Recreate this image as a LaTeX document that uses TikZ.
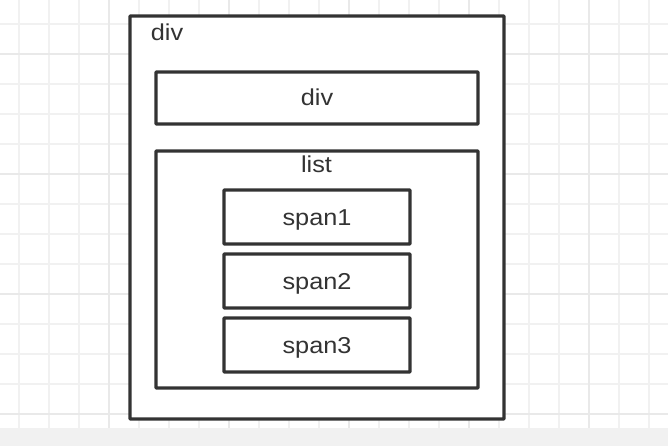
\documentclass[tikz,border=0pt]{standalone}
\usepackage{fontspec}
\setmainfont[FakeStretch=1.1]{Liberation Sans}
\definecolor{ink}{HTML}{333333}
\definecolor{gridlight}{HTML}{F1F1F1}
\definecolor{griddark}{HTML}{E9E9E9}
\definecolor{footgray}{HTML}{F1F1F1}
\tikzset{
  elembox/.style={draw=ink, line width=3.4pt, fill=white, rounded corners=0.8pt, inner sep=0pt},
  elemtext/.style={text=ink, font=\fontsize{23}{27}\selectfont, inner sep=0pt, anchor=base}
}
\begin{document}
\begin{tikzpicture}[x=1pt, y=-1pt]
        \useasboundingbox (0,0) rectangle (668,446);
        %\draw [help lines] (0,0) grid (668,446);
        \fill [white] (0,0) rectangle (668,446);
        \foreach \x in {19,49,...,649} \draw [gridlight, line width=2pt] (\x,0) -- (\x,428);
        \foreach \y in {24,54,...,414} \draw [gridlight, line width=2pt] (0,\y) -- (668,\y);
        \foreach \x in {109,229,...,589} \draw [griddark, line width=2pt] (\x,0) -- (\x,428);
        \foreach \y in {54,174,...,414} \draw [griddark, line width=2pt] (0,\y) -- (668,\y);
        \fill [footgray] (0,428) rectangle (668,446);

        \node [elembox, minimum width=374pt, minimum height=403pt] (outer) at (317,217.5) {};
        \node [elemtext] (outerlabel) at (167,41) {div};

        \node [elembox, minimum width=322pt, minimum height=52pt] (innerdiv) at (317,98) {};
        \node [elemtext] (innerlabel) at (317,106) {div};

        \node [elembox, minimum width=322pt, minimum height=237pt] (list) at (317,269.5) {};
        \node [elemtext] (listlabel) at (316.5,173) {list};

        \node [elembox, minimum width=186pt, minimum height=54pt] (spanA) at (317,217) {};
        \node [elemtext] (spanAlabel) at (317,225.5) {span1};
        \node [elembox, minimum width=186pt, minimum height=54pt] (spanB) at (317,281) {};
        \node [elemtext] (spanBlabel) at (317,289.5) {span2};
        \node [elembox, minimum width=186pt, minimum height=54pt] (spanC) at (317,345) {};
        \node [elemtext] (spanClabel) at (317,353.5) {span3};
    \end{tikzpicture}
\end{document}
